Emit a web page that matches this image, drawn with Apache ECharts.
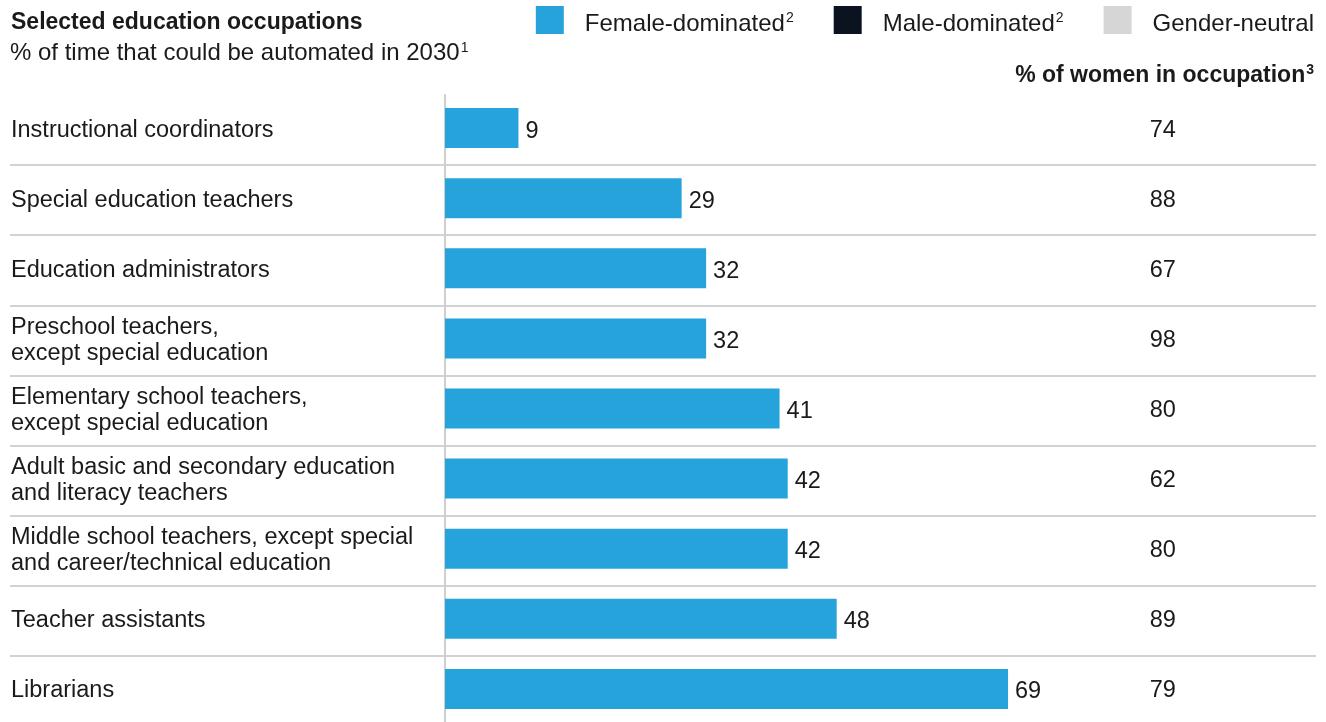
<!DOCTYPE html>
<html><head><meta charset="utf-8">
<script src="https://cdn.jsdelivr.net/npm/echarts@6/dist/echarts.min.js"></script>
<style>html,body{margin:0;padding:0;background:#fff}#c{width:1326px;height:722px}</style>
</head><body><div id="c"></div>
<script>
const categories = [
  "Instructional coordinators",
  "Special education teachers",
  "Education administrators",
  "Preschool teachers,\nexcept special education",
  "Elementary school teachers,\nexcept special education",
  "Adult basic and secondary education\nand literacy teachers",
  "Middle school teachers, except special\nand career/technical education",
  "Teacher assistants",
  "Librarians"
];
const automatable = [9, 29, 32, 32, 41, 42, 42, 48, 69];
const womenShare = [74, 88, 67, 98, 80, 62, 80, 89, 79];
const legendNames = ["Female-dominated", "Male-dominated", "Gender-neutral"];

const FONT = "Liberation Sans";
const BLUE = "#27A3DC", BLACK = "#0B1320", GREY = "#D6D6D6", TXT = "#1a1a1a";
const chart = echarts.init(document.getElementById('c'));
const sup = {fontSize: 14, verticalAlign: 'top', padding: [0,0,11,1], fontFamily: FONT, color: TXT};
chart.setOption({
  animation: false,
  textStyle: {fontFamily: FONT},
  title: [
    {text: 'Selected education occupations', left: 11, top: 11, padding: 0,
     textStyle: {fontSize: 23, fontWeight: 'bold', color: TXT, fontFamily: FONT}},
    {text: '% of time that could be automated in 2030{s|1}', left: 10, top: 41, padding: 0,
     textStyle: {fontSize: 24, fontWeight: 'normal', color: TXT, fontFamily: FONT, rich: {s: sup}}},
    {text: '% of women in occupation{s|3}', right: 12, top: 63, padding: 0,
     textStyle: {fontSize: 23, fontWeight: 'bold', color: TXT, fontFamily: FONT,
       rich: {s: Object.assign({}, sup, {fontWeight: 'bold'})}}}
  ],
  legend: {
    right: 12, top: 6, padding: 0, itemWidth: 28, itemHeight: 28, itemGap: 40, icon: 'rect',
    data: legendNames,
    selectedMode: false,
    formatter: n => n === "Gender-neutral" ? n : n + '{s|2}',
    textStyle: {fontSize: 24, color: TXT, fontFamily: FONT, padding: [8,0,0,16], rich: {s: sup}}
  },
  grid: [
    {left: 445, top: 95, width: 652.8, height: 631, containLabel: false, outerBoundsMode: 'none'},
    {left: 10, right: 10, top: 95, height: 631, containLabel: false, outerBoundsMode: 'none'}
  ],
  xAxis: [
    {type: 'value', gridIndex: 0, min: 0, max: 80, show: false},
    {type: 'value', gridIndex: 1, min: 0, max: 1, show: false}
  ],
  yAxis: [
    {type: 'category', gridIndex: 0, inverse: true, data: categories,
     axisLine: {show: true, lineStyle: {color: '#cfcfcf', width: 2}},
     axisTick: {show: false}, splitLine: {show: false},
     axisLabel: {align: 'left', margin: 434, fontSize: 23.5, lineHeight: 26, padding: [3,0,0,0], color: TXT, fontFamily: FONT}},
    {type: 'category', gridIndex: 0, inverse: true, position: 'right', data: categories,
     axisLine: {show: false}, axisTick: {show: false},
     axisLabel: {align: 'center', margin: 65, fontSize: 23.5, padding: [3,0,0,0], color: TXT, fontFamily: FONT,
       formatter: (v, i) => String(womenShare[i])}},
    {type: 'category', gridIndex: 1, inverse: true, data: categories,
     axisLine: {show: false}, axisTick: {show: false}, axisLabel: {show: false},
     splitLine: {show: true, showMinLine: false, showMaxLine: false, lineStyle: {color: '#d2d2d2', width: 2}}}
  ],
  series: [
    {name: 'Female-dominated', type: 'bar', xAxisIndex: 0, yAxisIndex: 0, data: automatable,
     barWidth: 40, itemStyle: {color: BLUE},
     label: {show: true, position: 'right', distance: 7, offset: [0, 3], fontSize: 23.5, color: TXT, fontFamily: FONT}},
    {name: 'Male-dominated', type: 'bar', xAxisIndex: 0, yAxisIndex: 0, data: [], itemStyle: {color: BLACK}},
    {name: 'Gender-neutral', type: 'bar', xAxisIndex: 0, yAxisIndex: 0, data: [], itemStyle: {color: GREY}}
  ]
});
</script></body></html>
